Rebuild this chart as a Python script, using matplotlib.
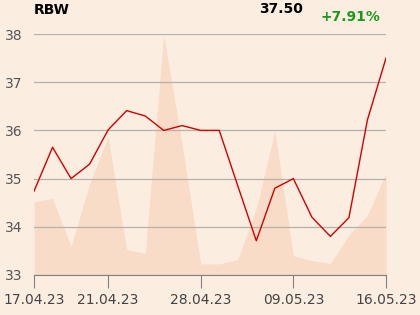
import matplotlib
matplotlib.use("Agg")
import matplotlib.pyplot as plt

dates = ["17.04.23", "18.04.23", "19.04.23", "20.04.23", "21.04.23",
         "24.04.23", "25.04.23", "26.04.23", "27.04.23", "28.04.23",
         "02.05.23", "03.05.23", "04.05.23", "08.05.23", "09.05.23",
         "10.05.23", "11.05.23", "12.05.23", "15.05.23", "16.05.23"]
price = [34.74, 35.65, 35.00, 35.30, 36.01, 36.41, 36.30, 36.00, 36.10, 36.00,
         36.00, 34.85, 33.71, 34.80, 35.00, 34.20, 33.80, 34.19, 36.22, 37.50]
# volume shading, drawn on the price scale
volume = [34.52, 34.59, 33.59, 34.90, 35.86, 33.53, 33.45, 37.98, 35.70, 33.23,
          33.23, 33.32, 34.38, 35.99, 33.40, 33.30, 33.24, 33.83, 34.24, 35.11]
tick_labels = ["17.04.23", "21.04.23", "28.04.23", "09.05.23", "16.05.23"]

bg = "#fcede1"
fig = plt.figure(figsize=(4.2, 3.15), dpi=100, facecolor=bg)
ax = fig.add_axes([0.081, 0.127, 0.838, 0.765], facecolor=bg)

x = list(range(len(dates)))
ax.fill_between(x, 33, volume, color="#f8dcc7", lw=0, zorder=1)
ax.plot(x, price, color="#d40000", lw=1.0, zorder=3)

ax.set_xlim(0, len(dates) - 1)
ax.set_ylim(33, 38)
ax.set_yticks([33, 34, 35, 36, 37, 38])
ax.grid(axis="y", color="#b4b0ac", lw=0.9, zorder=2)
ax.set_xticks([dates.index(d) for d in tick_labels])
ax.set_xticklabels(tick_labels)
ax.tick_params(axis="x", length=9, color="#808080", labelsize=10,
               labelcolor="#444444", pad=4)
ax.tick_params(axis="y", length=0, labelsize=10, labelcolor="#555555", pad=8)
for s in ["top", "right", "left"]:
    ax.spines[s].set_visible(False)
ax.spines["bottom"].set_color("#808080")

fig.text(0.081, 0.967, "RBW", fontsize=10, fontweight="bold", va="center")
fig.text(0.722, 0.97, "37.50", fontsize=10, fontweight="bold", va="center", ha="right")
fig.text(0.905, 0.946, "+7.91%", fontsize=10, fontweight="bold", va="center",
         ha="right", color="#1a9a1a")

fig.savefig("out.png", dpi=100, facecolor=bg)
